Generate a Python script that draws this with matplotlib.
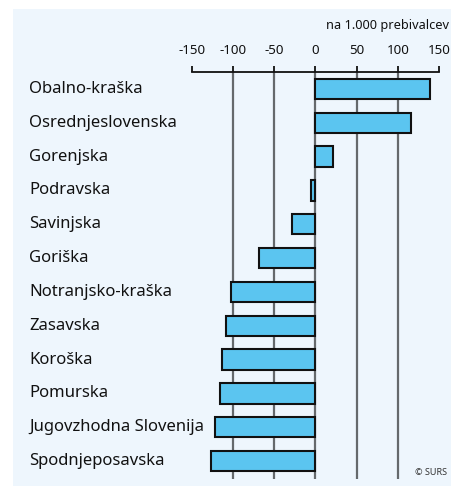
import matplotlib
matplotlib.use('Agg')
import matplotlib.pyplot as plt
import matplotlib.transforms as mtrans
from matplotlib.patches import Rectangle

plt.rcParams['font.family'] = ['Noto Sans', 'DejaVu Sans']

# data (na 1.000 prebivalcev)
regije = ['Obalno-kraška', 'Osrednjeslovenska', 'Gorenjska', 'Podravska', 'Savinjska',
          'Goriška', 'Notranjsko-kraška', 'Zasavska', 'Koroška', 'Pomurska',
          'Jugovzhodna Slovenija', 'Spodnjeposavska']
vrednosti = [138.5, 115.5, 21, -5.5, -28.5, -69, -103, -109, -113, -115.5, -121.5, -127.5]
ticks = [-150, -100, -50, 0, 50, 100, 150]

fig = plt.figure(figsize=(4.52, 4.86), dpi=100)
fig.patch.set_facecolor('white')
# light blue panel
fig.patches.append(Rectangle((13/452, 0), 1, 1 - 9/486, transform=fig.transFigure,
                             facecolor='#eef6fd', edgecolor='none', zorder=-10))

ax = fig.add_axes([192/452, 7/486, 247/452, 407/486])
ax.set_facecolor('none')

y = list(range(len(regije)))
ax.barh(y, vrednosti, height=0.6, color='#5bc5f0', edgecolor='#111111', linewidth=1.5, zorder=3)

ax.set_xlim(-150, 150)
ax.set_ylim(11.53, -0.5)
ax.xaxis.tick_top()
ax.set_xticks(ticks)
ax.set_xticklabels([str(t) for t in ticks], fontsize=9.6)
ax.tick_params(axis='x', direction='out', length=4.5, width=1.3, pad=6, colors='#111111')
ax.set_yticks([])
for s in ['left', 'right', 'bottom']:
    ax.spines[s].set_visible(False)
ax.spines['top'].set_linewidth(1.3)
ax.spines['top'].set_color('#111111')

for t in ticks[1:-1]:
    ax.axvline(t, color='#65696c', linewidth=1.6, zorder=1)

trans = mtrans.blended_transform_factory(fig.transFigure, ax.transData)
for i, r in enumerate(regije):
    ax.text(29/452, i, r, transform=trans, ha='left', va='center', fontsize=12, color='#111111')

fig.text(449/452, 1 - 25/486, 'na 1.000 prebivalcev', ha='right', va='center', fontsize=9.2, color='#111111')
fig.text(447/452, 1 - 472/486, '© SURS', ha='right', va='center', fontsize=6.5, color='#333333')

fig.savefig('out.png', dpi=100)
